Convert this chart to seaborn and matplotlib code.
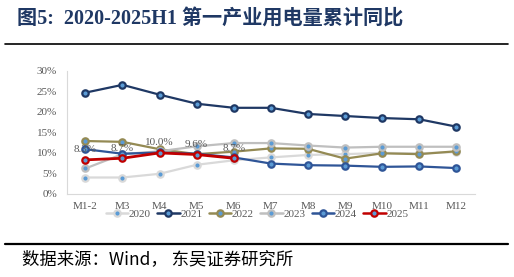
import numpy as np
import pandas as pd
import matplotlib
matplotlib.use("Agg")
import matplotlib.pyplot as plt
import seaborn as sns
from matplotlib.lines import Line2D

months = ["M1-2", "M3", "M4", "M5", "M6", "M7", "M8", "M9", "M10", "M11", "M12"]
years = ["2020", "2021", "2022", "2023", "2024", "2025"]

# cumulative yoy growth, %
y2020 = [4.0, 4.0, 4.9, 7.1, 8.2, 8.9, 9.5, 9.7, 10.0, 9.9, 10.2]
y2021 = [24.7, 26.6, 24.2, 22.0, 21.0, 21.0, 19.5, 19.0, 18.5, 18.2, 16.4]
y2022 = [12.9, 12.7, 10.9, 9.7, 10.3, 11.1, 11.0, 8.6, 9.9, 9.7, 10.4]
y2023 = [6.2, 9.7, 10.4, 11.6, 12.4, 12.4, 11.8, 11.3, 11.5, 11.5, 11.5]
y2024 = [10.9, 9.8, 10.1, 9.8, 8.9, 7.4, 7.0, 6.9, 6.6, 6.7, 6.3]
y2025 = [8.3, 8.7, 10.0, 9.6, 8.7]

series = {"2020": y2020, "2021": y2021, "2022": y2022,
          "2023": y2023, "2024": y2024, "2025": y2025}
colors = {"2020": "#d9d9d9", "2021": "#1f3864", "2022": "#948a54",
          "2023": "#bfbfbf", "2024": "#2f5597", "2025": "#c00000"}

rows = []
for yr in years:
    for m, v in zip(months, series[yr]):
        rows.append({"month": m, "year": yr, "value": v})
df = pd.DataFrame(rows)

sns.set_style("white")
plt.rcParams["font.family"] = ["Liberation Serif", "Noto Sans CJK SC"]

fig = plt.figure(figsize=(5.14, 2.77), dpi=100)
ax = fig.add_axes([0.130, 0.300, 0.794, 0.444])

xpos = {m: i for i, m in enumerate(months)}
df["x"] = df["month"].map(xpos)

for yr in years:
    sub = df[df["year"] == yr]
    c = colors[yr]
    lw = 2.0 if yr == "2025" else 1.6
    sns.lineplot(data=sub, x="x", y="value", ax=ax, color=c, lw=lw,
                 marker="o", markersize=4.6, markerfacecolor="#5b9bd5",
                 markeredgecolor=c, markeredgewidth=1.6, legend=False)

# data labels for 2025
for i, v in enumerate(y2025):
    ax.annotate(f"{v:.1f}%", (i, v), xytext=(0, 4), textcoords="offset points",
                ha="center", va="bottom", fontsize=8, color="#595959")

ax.set_xlim(-0.5, len(months) - 0.5)
ax.set_ylim(0, 30)
ax.set_xticks(range(len(months)))
ax.set_xticklabels(months)
ax.set_yticks(range(0, 31, 5))
ax.set_yticklabels([f"{t}%" for t in range(0, 31, 5)])
ax.set_xlabel("")
ax.set_ylabel("")
ax.tick_params(axis="both", labelsize=8, colors="#595959", length=0)
ax.tick_params(axis="y", pad=7)
ax.tick_params(axis="x", pad=6)
for s in ["top", "right"]:
    ax.spines[s].set_visible(False)
for s in ["left", "bottom"]:
    ax.spines[s].set_color("#d9d9d9")
    ax.spines[s].set_linewidth(0.8)

handles = [Line2D([], [], color=colors[yr], lw=1.8, marker="o", markersize=4.6,
                  markerfacecolor="#5b9bd5", markeredgecolor=colors[yr],
                  markeredgewidth=1.6) for yr in years]
leg = fig.legend(handles, years, loc="center", bbox_to_anchor=(0.5, 0.227),
                 ncol=6, frameon=False, fontsize=8, handlelength=2.0,
                 handletextpad=0.05, columnspacing=0.6)
for t in leg.get_texts():
    t.set_color("#595959")

fig.text(0.033, 0.93, "图5:  2020-2025H1 第一产业用电量累计同比", fontsize=14.5,
         fontweight="bold", color="#1f3864", ha="left", va="center")
fig.add_artist(Line2D([0.01, 0.988], [1 - 43.5 / 277] * 2, color="black", lw=1.2))
fig.add_artist(Line2D([0.01, 0.988], [1 - 243.5 / 277] * 2, color="black", lw=1.6))
fig.text(0.042, 1 - 259 / 277, "数据来源：Wind， 东吴证券研究所", fontsize=12.5,
         color="black", ha="left", va="center",
         family=["Noto Sans CJK SC", "Liberation Serif"])

fig.savefig("out.png", dpi=100)
